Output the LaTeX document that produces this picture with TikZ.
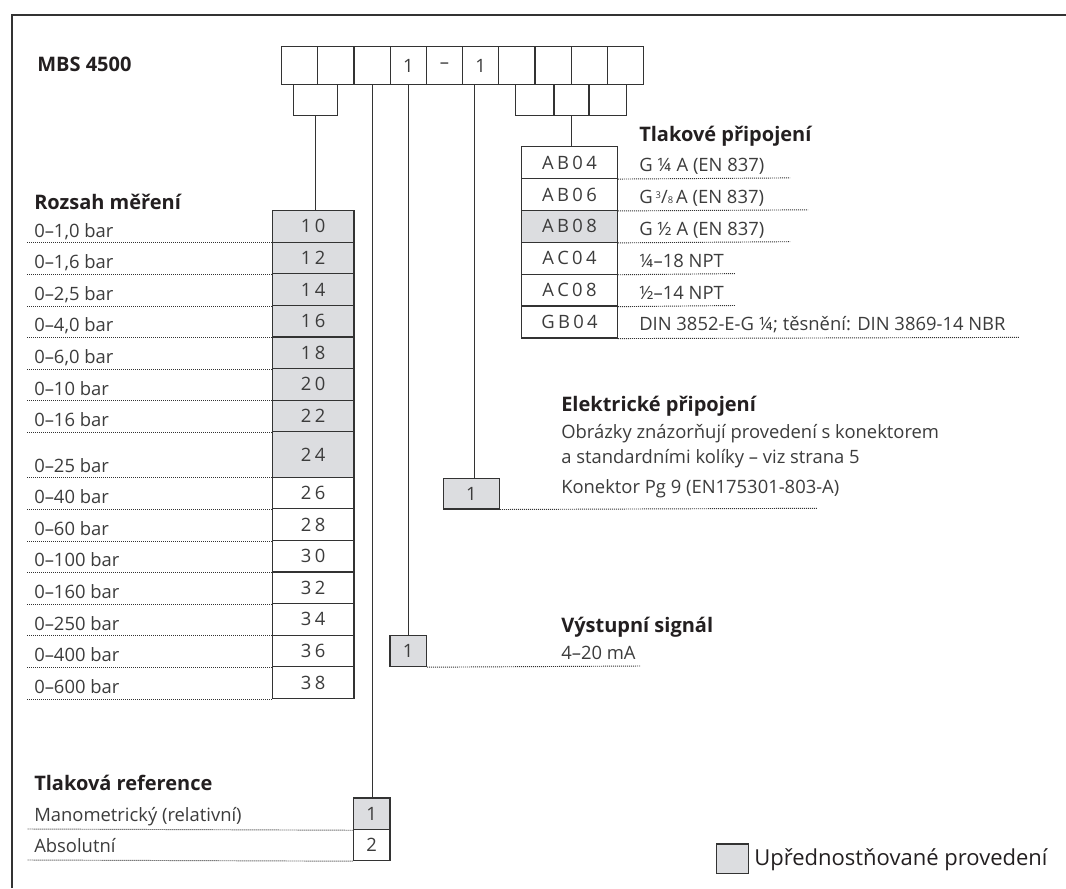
\documentclass[tikz,border=0pt]{standalone}
\usepackage{fontspec}
\setmainfont{Open Sans}
\usetikzlibrary{calc}
\definecolor{linec}{HTML}{333333}
\definecolor{txt}{HTML}{3C3C3C}
\definecolor{hd}{HTML}{231F20}
\definecolor{shade}{HTML}{DCDDE0}
\newcommand\kk{\kern2.5pt}
\begin{document}
\begin{tikzpicture}[x=0.75pt,y=-0.75pt,
  box/.style={draw=linec, line width=0.9pt, inner sep=0pt, anchor=north west, text=txt, font=\fontsize{13.8}{16}\selectfont},
  lbl/.style={anchor=base west, inner sep=0pt, text=txt, font=\fontsize{13.8}{16}\selectfont},
  hdg/.style={anchor=base west, inner sep=0pt, text=hd, font=\fontsize{15}{17}\selectfont\bfseries},
  dotl/.style={draw=linec, line width=0.7pt, dash pattern=on 0.75pt off 0.75pt},
  conn/.style={draw=linec, line width=0.9pt}]
\useasboundingbox (0,0) rectangle (1066,888);
\fill[white] (0,0) rectangle (1066,888);
% frame
\draw[conn] (12,888) -- (12,15) -- (1066,15);
% title
\node[hdg] (title) at (37,72) {MBS 4500};
% top row
\foreach \i/\lab in {1/{},2/{},3/{},4/1,5/–,6/1,7/{},8/{},9/{},10/{}}{
  \node[box, minimum width=27.15pt, minimum height=28.5pt] (t\i) at ({281+36.2*(\i-1)},46) {\lab};
}
% sub boxes
\node[box, minimum width=33pt, minimum height=23.25pt] (g1) at (293,84) {};
\node[box, minimum width=28.7pt, minimum height=23.25pt] (r1) at (515,84) {};
\node[box, minimum width=26.25pt, minimum height=23.25pt] (r2) at (553.3,84) {};
\node[box, minimum width=28.3pt, minimum height=23.25pt] (r3) at (588.3,84) {};
% Rozsah mereni
\node[hdg] (hm) at (34,209) {Rozsah měření};
\foreach \i/\t/\h/\v/\lab/\f in {
  1/210/31.6/1\kk0/{0–1,0 bar}/shade,
  2/241.6/31.6/1\kk2/{0–1,6 bar}/shade,
  3/273.2/31.6/1\kk4/{0–2,5 bar}/shade,
  4/304.8/31.6/1\kk6/{0–4,0 bar}/shade,
  5/336.4/31.6/1\kk8/{0–6,0 bar}/shade,
  6/368/31.6/2\kk0/{0–10 bar}/shade,
  7/399.6/31.6/2\kk2/{0–16 bar}/shade,
  8/431.2/45.4/2\kk4/{0–25 bar}/shade,
  9/476.6/31.6/2\kk6/{0–40 bar}/white,
  10/508.2/31.6/2\kk8/{0–60 bar}/white,
  11/539.8/31.6/3\kk0/{0–100 bar}/white,
  12/571.4/31.6/3\kk2/{0–160 bar}/white,
  13/603/31.6/3\kk4/{0–250 bar}/white,
  14/634.6/31.6/3\kk6/{0–400 bar}/white,
  15/666.2/31.6/3\kk8/{0–600 bar}/white}{
  \node[box, fill=\f, minimum width=61.2pt, minimum height={\h*0.75pt}] (m\i) at (271.7,\t) {\v};
  \node[lbl] (lm\i) at (34,{\t+\h-4.5}) {\lab};
  \draw[dotl] (m\i.south west) -- ++(-245,0);
}
% Tlakove pripojeni
\node[hdg] (hp) at (639,142) {Tlakové připojení};
\foreach \i/\v/\lab/\e/\f in {
  1/{A\kk B\kk 0\kk 4}/{G ¼ A (EN 837)}/790/white,
  2/{A\kk B\kk 0\kk 6}/{G\,\raisebox{0.45ex}{\scriptsize 3}/{\scriptsize 8}\,A (EN 837)}/808/white,
  3/{A\kk B\kk 0\kk 8}/{G ½ A (EN 837)}/790/shade,
  4/{A\kk C\kk 0\kk 4}/{¼–18 NPT}/735/white,
  5/{A\kk C\kk 0\kk 8}/{½–14 NPT}/735/white,
  6/{G\kk B\kk 0\kk 4}/{DIN 3852-E-G ¼; těsnění: DIN 3869-14 NBR}/1019/white}{
  \node[box, fill=\f, minimum width=71.8pt, minimum height=23.9pt] (p\i) at (521,{146+31.9*(\i-1)}) {\v};
  \node[lbl] (lp\i) at (639,{146+31.9*\i-6.5}) {\lab};
  \draw[dotl] (p\i.south east) -- (\e,{146+31.9*\i});
}
% Elektricke pripojeni
\node[hdg] (he) at (561,411.7) {Elektrické připojení};
\node[lbl] (le1) at (561,438.3) {Obrázky znázorňují provedení s konektorem};
\node[lbl] (le2) at (561,463.3) {a standardními kolíky – viz strana 5};
\node[lbl] (le3) at (561,493) {Konektor Pg 9 (EN175301-803-A)};
\node[box, fill=shade, minimum width=42pt, minimum height=22.95pt] (e1) at (442.7,477.7) {1};
\draw[dotl] (e1.south east) -- (817,508.3);
% Vystupni signal
\node[hdg] (hv) at (561,632) {Výstupní signál};
\node[lbl] (lv1) at (561,659) {4–20 mA};
\node[box, fill=shade, minimum width=27.5pt, minimum height=23.25pt] (v1) at (389.3,635) {1};
\draw[dotl] (v1.south east) -- (640,666);
% Tlakova reference
\node[hdg] (hr) at (34,790) {Tlaková reference};
\node[box, fill=shade, minimum width=27.45pt, minimum height=23.8pt] (a1) at (352.7,797.3) {1};
\node[box, fill=white, minimum width=27.45pt, minimum height=23.25pt] (a2) at (352.7,829) {2};
\node[lbl] (la1) at (34,821.5) {Manometrický (relativní)};
\node[lbl] (la2) at (34,852.5) {Absolutní};
\draw[dotl] (a1.south west) -- (27,829);
\draw[dotl] (a2.south west) -- (27,860);
% connectors
\coordinate (ec) at ($(t6.south west)+(12.3,0)$);
\draw[conn] (g1.south) -- (g1.south |- m1.north);
\draw[conn] (t3.south) -- (t3.south |- a1.north);
\draw[conn] (t4.south) -- (t4.south |- v1.north);
\draw[conn] (ec) -- (ec |- e1.north);
\draw[conn] (r2.south) -- (r2.south |- p1.north);
% legend
\node[box, fill=shade, minimum width=24.2pt, minimum height=22pt] (leg) at (716,843.3) {};
\node[anchor=base west, inner sep=0pt, text=hd, font=\fontsize{16.5}{20}\selectfont] (legt) at (754,865) {Upřednostňované provedení};
\end{tikzpicture}
\end{document}
